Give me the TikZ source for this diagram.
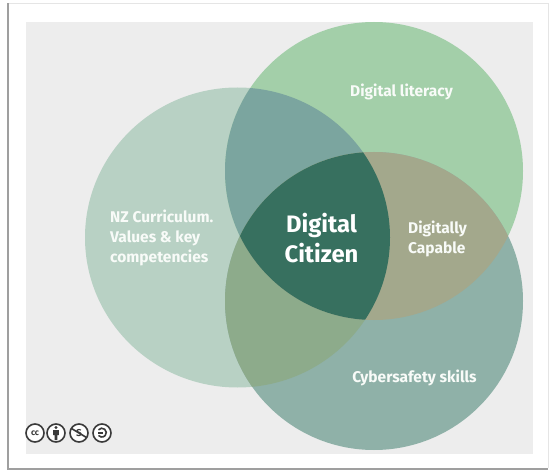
\documentclass[tikz,border=0pt]{standalone}
\usepackage{fontspec}
\setmainfont{Fira Sans}
\definecolor{panel}{HTML}{EDEDED}
\definecolor{cLeft}{HTML}{B8D1C4}
\definecolor{cTop}{HTML}{A3CFA9}
\definecolor{cBot}{HTML}{8FB1A8}
\definecolor{cLT}{HTML}{7BA59F}
\definecolor{cLB}{HTML}{8DAB8B}
\definecolor{cTB}{HTML}{A3A88C}
\definecolor{cMid}{HTML}{37705F}
\definecolor{cIcon}{HTML}{3A3A3A}
\tikzset{
  lbl/.style={text=white!92!cTop,font=\bfseries\fontsize{15.5}{20}\selectfont,align=left,inner sep=0pt},
  mid/.style={text=white,font=\fontsize{23.8}{30}\selectfont\bfseries,align=center,inner sep=0pt},
  ccring/.style={draw=cIcon,line width=1.6pt,fill=white},
  ccline/.style={draw=cIcon,line width=1.6pt}
}
\def\cL{(237.5,237.5) ellipse (152.5 and 150)}
\def\cT{(374,171) circle (149)}
\def\cB{(374,301) circle (149)}
\begin{document}
\begin{tikzpicture}[x=1pt,y=-1pt]
\useasboundingbox (0,0) rectangle (549,473);
\fill[white] (0,0) rectangle (549,473);
\draw[gray!20,line width=0.8pt] (8,3.5) -- (548,3.5) -- (548,468);
\draw[gray!75,line width=1.6pt] (8,3.5) -- (8,469) -- (548,469);
\fill[panel] (26,22) rectangle (533,454);
\fill[cLeft] \cL;
\fill[cTop] \cT;
\fill[cBot] \cB;
\begin{scope}\clip \cL; \fill[cLT] \cT; \end{scope}
\begin{scope}\clip \cL; \fill[cLB] \cB; \end{scope}
\begin{scope}\clip \cT; \fill[cTB] \cB; \end{scope}
\begin{scope}\clip \cL; \clip \cT; \fill[cMid] \cB; \end{scope}
\node[lbl] (lit) at (401.5,92) {Digital literacy};
\node[lbl,anchor=west] (nz) at (110,238) {NZ Curriculum.\\Values \& key\\competencies};
\node[mid] (cit) at (321.5,238) {Digital\\Citizen};
\node[lbl,anchor=west] (cap) at (408,239) {Digitally\\Capable};
\node[lbl] (cyb) at (414.5,378) {Cybersafety skills};
% licence icons
\foreach \n/\x in {a/35,b/56,c/79,d/102}{
  \node[circle,ccring,minimum size=18pt,inner sep=0pt] (\n) at (\x,433) {};
}
\node[inner sep=0pt,font=\bfseries\fontsize{8.5}{8.5}\selectfont,text=cIcon] (cctext) at (a) {cc};
\fill[cIcon] (56,427.4) circle (1.6);
\fill[cIcon] (53.2,430) rectangle (58.8,435) (54.6,435) rectangle (57.4,440);
\node[inner sep=0pt,font=\bfseries\fontsize{10}{10}\selectfont,text=cIcon] (nc) at (c) {S};
\draw[ccline] (71.5,428.5) -- (86.5,437.5);
\draw[ccline] (98.5,429.8) arc (-140:140:4.4);
\draw[ccline] (98,433) -- (103,433);
\end{tikzpicture}
\end{document}
